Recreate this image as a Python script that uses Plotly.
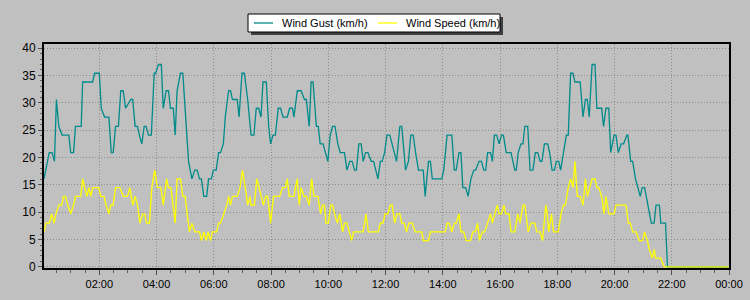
import pandas as pd
import plotly.graph_objects as go

# ---- data (minutes after midnight, km/h) ----
gust_minutes = [4, 15, 21, 26, 30, 35, 42, 56, 60, 66, 70, 82, 85, 106, 110, 120, 124, 131, 140, 145,
                149, 154, 160, 165, 170, 175, 186, 190, 195, 200, 204, 209, 214, 218, 223, 229, 235, 238,
                244, 250, 254, 260, 265, 269, 275, 279, 283, 290, 295, 302, 307, 314, 320, 325, 330, 334,
                339, 345, 349, 355, 359, 365, 370, 374, 380, 384, 391, 395, 399, 409, 413, 419, 424, 431,
                438, 444, 449, 454, 459, 463, 470, 475, 479, 484, 489, 495, 500, 505, 514, 519, 525, 528,
                535, 543, 550, 554, 560, 564, 568, 575, 579, 583, 589, 599, 604, 609, 614, 620, 625, 634,
                639, 645, 650, 655, 659, 664, 669, 673, 678, 683, 690, 695, 704, 709, 713, 718, 723, 729,
                734, 743, 750, 754, 762, 768, 773, 778, 783, 789, 799, 803, 810, 814, 818, 838, 842, 849,
                859, 864, 868, 874, 878, 882, 888, 893, 899, 905, 909, 916, 921, 926, 930, 934, 940, 944,
                948, 953, 958, 963, 967, 973, 983, 991, 994, 998, 1004, 1008, 1012, 1018, 1023, 1029, 1034,
                1039, 1044, 1048, 1053, 1060, 1064, 1069, 1074, 1078, 1083, 1087, 1093, 1099, 1103, 1108,
                1113, 1117, 1128, 1134, 1139, 1143, 1147, 1153, 1159, 1163, 1173, 1177, 1182, 1188, 1192,
                1199, 1203, 1208, 1214, 1219, 1226, 1228, 1234, 1238, 1244, 1249, 1254, 1258, 1263, 1270,
                1277, 1283, 1287, 1294, 1297, 1307, 1311, 1440]
gust_kmh = [16.1, 20.9, 20.9, 19.3, 30.6, 25.7, 24.1, 24.1, 20.9, 20.9, 25.7, 25.7, 33.8, 33.8, 35.4, 35.4,
            29.0, 27.4, 27.4, 20.9, 20.9, 25.7, 25.7, 32.2, 32.2, 29.0, 30.6, 30.6, 25.7, 25.7, 24.1, 22.5,
            25.7, 25.7, 24.1, 24.1, 35.4, 35.4, 37.0, 37.0, 29.0, 32.2, 32.2, 29.0, 29.0, 24.1, 32.2, 35.4,
            35.4, 25.7, 19.3, 16.1, 17.7, 17.7, 16.1, 16.1, 12.9, 12.9, 16.1, 16.1, 17.7, 17.7, 20.9, 20.9,
            22.5, 27.4, 32.2, 32.2, 30.6, 30.6, 27.4, 35.4, 35.4, 30.6, 24.1, 24.1, 29.0, 29.0, 27.4, 33.8,
            33.8, 25.7, 22.5, 24.1, 24.1, 29.0, 29.0, 27.4, 27.4, 29.0, 29.0, 27.4, 32.2, 32.2, 30.6, 30.6,
            25.7, 33.8, 33.8, 25.7, 25.7, 22.5, 22.5, 19.3, 24.1, 25.7, 25.7, 22.5, 20.9, 20.9, 17.7, 19.3,
            19.3, 17.7, 17.7, 22.5, 22.5, 19.3, 20.9, 20.9, 19.3, 19.3, 16.1, 19.3, 19.3, 20.9, 24.1, 24.1,
            22.5, 19.3, 25.7, 25.7, 17.7, 19.3, 24.1, 24.1, 20.9, 17.7, 17.7, 12.9, 19.3, 19.3, 16.1, 16.1,
            17.7, 24.1, 24.1, 17.7, 17.7, 20.9, 20.9, 14.5, 14.5, 12.9, 16.1, 17.7, 17.7, 19.3, 19.3, 17.7,
            17.7, 20.9, 20.9, 19.3, 24.1, 24.1, 22.5, 24.1, 24.1, 20.9, 20.9, 17.7, 17.7, 20.9, 22.5, 22.5,
            25.7, 25.7, 17.7, 17.7, 20.9, 20.9, 19.3, 19.3, 22.5, 22.5, 20.9, 17.7, 17.7, 19.3, 19.3, 17.7,
            20.9, 24.1, 24.1, 35.4, 35.4, 33.8, 33.8, 27.4, 30.6, 30.6, 27.4, 37.0, 37.0, 29.0, 29.0, 25.7,
            29.0, 29.0, 20.9, 24.1, 24.1, 20.9, 22.5, 22.5, 24.1, 24.1, 19.3, 19.3, 16.1, 14.5, 12.9, 14.5,
            14.5, 11.3, 8.0, 8.0, 11.3, 11.3, 8.0, 8.0, 0.0, 0.0]

speed_minutes = [4, 8, 15, 20, 25, 29, 35, 41, 45, 49, 54, 60, 66, 70, 81, 85, 89, 94, 98, 102, 106, 110,
                 119, 123, 130, 134, 140, 144, 149, 154, 163, 170, 179, 184, 190, 195, 200, 205, 211, 215,
                 219, 225, 230, 236, 242, 249, 254, 261, 265, 270, 274, 279, 283, 290, 295, 300, 304, 309,
                 314, 320, 330, 334, 339, 344, 348, 353, 357, 366, 370, 374, 381, 387, 391, 395, 399, 409,
                 415, 420, 426, 431, 436, 438, 445, 450, 455, 464, 469, 473, 479, 485, 498, 504, 510, 514,
                 518, 528, 531, 535, 539, 543, 549, 554, 560, 565, 570, 578, 584, 588, 592, 595, 600, 605,
                 609, 613, 619, 624, 630, 634, 639, 644, 649, 653, 673, 679, 684, 705, 709, 715, 719, 725,
                 730, 734, 739, 744, 750, 754, 759, 764, 769, 776, 782, 796, 799, 810, 814, 845, 849, 853,
                 859, 864, 868, 874, 878, 884, 889, 898, 903, 908, 913, 917, 923, 928, 934, 940, 944, 949,
                 954, 958, 963, 968, 972, 979, 983, 991, 997, 1002, 1008, 1012, 1019, 1025, 1033, 1037,
                 1044, 1049, 1054, 1056, 1059, 1062, 1068, 1072, 1082, 1088, 1093, 1097, 1103, 1108, 1113,
                 1117, 1122, 1128, 1134, 1139, 1143, 1148, 1153, 1159, 1163, 1167, 1173, 1178, 1182, 1188,
                 1199, 1203, 1224, 1229, 1233, 1238, 1245, 1252, 1259, 1263, 1269, 1273, 1279, 1283, 1286,
                 1297, 1304, 1440]
speed_kmh = [6.4, 8.0, 8.0, 9.7, 8.0, 9.7, 11.3, 11.3, 12.9, 12.9, 11.3, 9.7, 11.3, 12.9, 12.9, 16.1, 14.5,
             12.9, 14.5, 12.9, 14.5, 14.5, 14.5, 12.9, 12.9, 11.3, 9.7, 11.3, 11.3, 14.5, 14.5, 12.9, 12.9,
             14.5, 11.3, 12.9, 11.3, 8.0, 9.7, 9.7, 8.0, 8.0, 14.5, 17.7, 14.5, 14.5, 11.3, 16.1, 14.5, 14.5,
             11.3, 8.0, 16.1, 16.1, 12.9, 12.9, 9.7, 6.4, 8.0, 6.4, 6.4, 4.8, 6.4, 4.8, 6.4, 4.8, 6.4, 6.4,
             8.0, 8.0, 9.7, 11.3, 12.9, 11.3, 12.9, 12.9, 14.5, 17.7, 14.5, 11.3, 12.9, 11.3, 11.3, 16.1,
             14.5, 11.3, 12.9, 12.9, 8.0, 12.9, 12.9, 14.5, 14.5, 16.1, 12.9, 12.9, 14.5, 16.1, 11.3, 14.5,
             12.9, 12.9, 11.3, 16.1, 12.9, 12.9, 9.7, 11.3, 11.3, 8.0, 8.0, 11.3, 11.3, 9.7, 8.0, 9.7, 6.4,
             8.0, 8.0, 6.4, 4.8, 6.4, 6.4, 9.7, 6.4, 6.4, 8.0, 8.0, 9.7, 9.7, 11.3, 11.3, 8.0, 9.7, 9.7, 8.0,
             8.0, 6.4, 8.0, 8.0, 6.4, 6.4, 4.8, 4.8, 6.4, 6.4, 8.0, 8.0, 6.4, 8.0, 8.0, 9.7, 6.4, 6.4, 4.8,
             4.8, 6.4, 6.4, 8.0, 4.8, 6.4, 6.4, 8.0, 9.7, 8.0, 9.7, 11.3, 9.7, 9.7, 11.3, 9.7, 9.7, 6.4, 6.4,
             9.7, 8.0, 11.3, 11.3, 6.4, 8.0, 8.0, 6.4, 6.4, 4.8, 9.7, 11.3, 9.7, 6.4, 9.7, 6.4, 6.4, 9.7,
             11.3, 11.3, 14.5, 16.1, 14.5, 19.3, 12.9, 12.9, 11.3, 16.1, 12.9, 14.5, 16.1, 16.1, 14.5, 14.5,
             12.9, 9.7, 12.9, 9.7, 9.7, 11.3, 11.3, 8.0, 8.0, 6.4, 6.4, 4.8, 4.8, 6.4, 4.8, 3.2, 1.6, 3.2,
             1.6, 1.6, 0.0, 0.0]

series_names = ["Wind Gust (km/h)", "Wind Speed (km/h)"]
series_colors = ["#008B8B", "#FFFF00"]

tick_hours = [2, 4, 6, 8, 10, 12, 14, 16, 18, 20, 22, 24]
tick_labels = ["02:00", "04:00", "06:00", "08:00", "10:00", "12:00",
               "14:00", "16:00", "18:00", "20:00", "22:00", "00:00"]
y_ticks = [0, 5, 10, 15, 20, 25, 30, 35, 40]

W, H = 750, 300
ML, MR, MT, MB = 44, 21, 44, 32
PW, PH = W - ML - MR, H - MT - MB

base = pd.Timestamp("2024-01-01")
gust_t = base + pd.to_timedelta(gust_minutes, unit="m")
speed_t = base + pd.to_timedelta(speed_minutes, unit="m")
tick_t = [base + pd.Timedelta(hours=h) for h in tick_hours]

FONT = "Liberation Sans, Arial, sans-serif"
BG = "#C0C0C0"


def px(xpix):
    return (xpix - ML) / PW


def py(ypix):
    return (H - MB - ypix) / PH


fig = go.Figure()
fig.add_trace(go.Scatter(x=gust_t, y=gust_kmh, mode="lines", name=series_names[0],
                         line=dict(color=series_colors[0], width=1.3), showlegend=False))
fig.add_trace(go.Scatter(x=speed_t, y=speed_kmh, mode="lines", name=series_names[1],
                         line=dict(color=series_colors[1], width=1.3), showlegend=False))

# ---- legend box (drawn like the original: white box with a drop shadow) ----
box_l, box_r, box_t, box_b = 248, 500, 14, 32
shapes = [
    dict(type="rect", xref="paper", yref="paper", layer="above",
         x0=px(box_l + 3), x1=px(box_r + 3), y0=py(box_b + 3), y1=py(box_t + 3),
         fillcolor="#404040", line=dict(width=0)),
    dict(type="rect", xref="paper", yref="paper", layer="above",
         x0=px(box_l), x1=px(box_r), y0=py(box_b), y1=py(box_t),
         fillcolor="#FFFFFF", line=dict(color="#000000", width=1)),
]
annotations = []
item_x = [254, 378]
ymid = (box_t + box_b) / 2
for name, color, x0 in zip(series_names, series_colors, item_x):
    shapes.append(dict(type="line", xref="paper", yref="paper", layer="above",
                       x0=px(x0), x1=px(x0 + 19), y0=py(ymid), y1=py(ymid),
                       line=dict(color=color, width=1.3)))
    annotations.append(dict(text=name, xref="paper", yref="paper", x=px(x0 + 26), y=py(ymid),
                            xanchor="left", yanchor="middle", showarrow=False,
                            font=dict(family=FONT, size=11, color="#000000")))

fig.update_layout(
    width=W, height=H,
    margin=dict(l=ML, r=MR, t=MT, b=MB, autoexpand=False),
    paper_bgcolor=BG, plot_bgcolor=BG,
    font=dict(family=FONT, size=11, color="#000000"),
    showlegend=False,
    shapes=shapes, annotations=annotations,
)
fig.update_xaxes(
    type="date",
    range=[base + pd.Timedelta(minutes=4), base + pd.Timedelta(hours=24)],
    tickmode="array", tickvals=tick_t, ticktext=tick_labels,
    ticks="outside", ticklen=5, tickcolor="#505050", tickwidth=1,
    tickfont=dict(family=FONT, size=11, color="#000000"),
    showgrid=True, gridcolor="#8A8A8A", gridwidth=1, griddash="1px,2px",
    showline=True, linecolor="#000000", linewidth=2, mirror=True,
    zeroline=False,
    minor=dict(dtick=30 * 60 * 1000, tick0=base, ticks="outside", ticklen=3,
               tickcolor="#606060", showgrid=False),
)
fig.update_yaxes(
    range=[-0.2, 40.75],
    tickmode="array", tickvals=y_ticks,
    ticks="outside", ticklen=4, tickcolor="#505050", tickwidth=1,
    tickfont=dict(family=FONT, size=12, color="#000000"),
    showgrid=True, gridcolor="#8A8A8A", gridwidth=1, griddash="1px,2px",
    showline=True, linecolor="#000000", linewidth=2, mirror=True,
    zeroline=False,
    minor=dict(dtick=1, tick0=0, ticks="outside", ticklen=2,
               tickcolor="#606060", showgrid=False),
)

fig.write_html("out.html")
